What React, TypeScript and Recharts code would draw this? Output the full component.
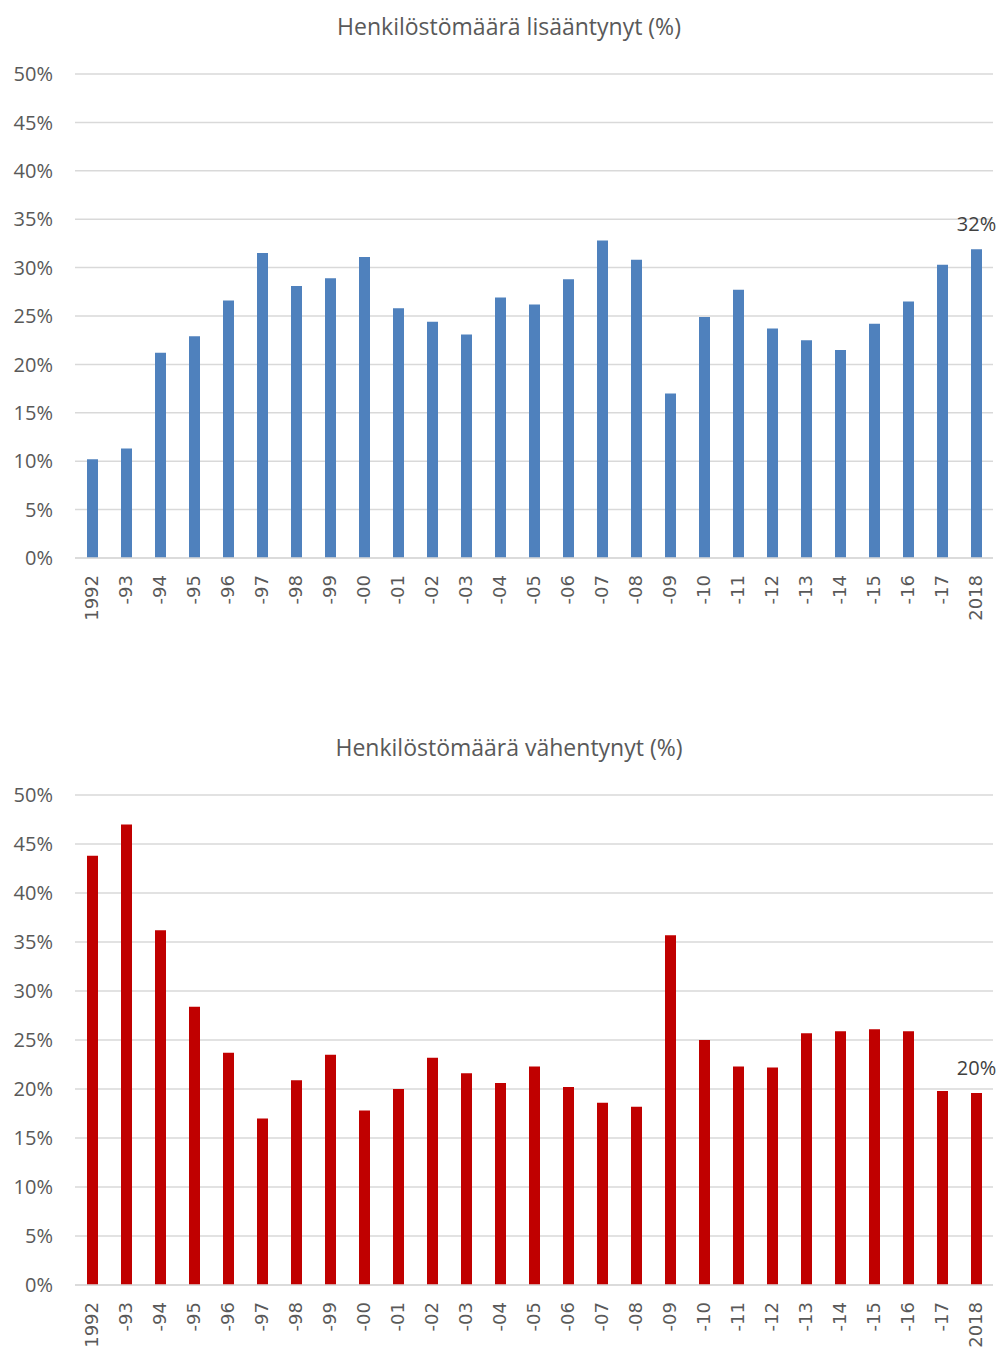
import { Bar, BarChart, CartesianGrid, LabelList, XAxis, YAxis } from "recharts";

const YEARS = [
  "1992", "-93", "-94", "-95", "-96", "-97", "-98", "-99", "-00", "-01",
  "-02", "-03", "-04", "-05", "-06", "-07", "-08", "-09", "-10", "-11",
  "-12", "-13", "-14", "-15", "-16", "-17", "2018",
];

// Henkilöstömäärä lisääntynyt (%)
const INCREASED = [
  10.2, 11.3, 21.2, 22.9, 26.6, 31.5, 28.1, 28.9, 31.1, 25.8,
  24.4, 23.1, 26.9, 26.2, 28.8, 32.8, 30.8, 17.0, 24.9, 27.7,
  23.7, 22.5, 21.5, 24.2, 26.5, 30.3, 31.9,
];

// Henkilöstömäärä vähentynyt (%)
const DECREASED = [
  43.8, 47.0, 36.2, 28.4, 23.7, 17.0, 20.9, 23.5, 17.8, 20.0,
  23.2, 21.6, 20.6, 22.3, 20.2, 18.6, 18.2, 35.7, 25.0, 22.3,
  22.2, 25.7, 25.9, 26.1, 25.9, 19.8, 19.6,
];

const Y_TICKS = [0, 5, 10, 15, 20, 25, 30, 35, 40, 45, 50];

const TEXT = "#595959";
const FONT = "'Open Sans', 'Noto Sans', sans-serif";

function YearTick({ x, y, payload }: any) {
  const ty = y + 9;
  return (
    <text
      x={x}
      y={ty}
      dy="0.36em"
      transform={`rotate(-90, ${x}, ${ty})`}
      textAnchor="end"
      fill={TEXT}
      fontSize={18}
      fontFamily="'DejaVu Sans', sans-serif"
    >
      {payload.value}
    </text>
  );
}

function Panel({
  title,
  values,
  lastLabel,
  color,
  height,
  marginTop,
  marginBottom,
  axisHeight,
  titleY,
}: {
  title: string;
  values: number[];
  lastLabel: string;
  color: string;
  height: number;
  marginTop: number;
  marginBottom: number;
  axisHeight: number;
  titleY: number;
}) {
  const data = YEARS.map((year, i) => ({
    year,
    value: values[i],
    label: i === YEARS.length - 1 ? lastLabel : undefined,
  }));

  return (
    <div style={{ position: "relative", width: 1000, height }}>
      <div
        style={{
          position: "absolute",
          left: 0,
          width: 1018,
          top: titleY - 15,
          lineHeight: "30px",
          textAlign: "center",
          fontFamily: FONT,
          fontSize: 23,
          color: TEXT,
        }}
      >
        {title}
      </div>
      <BarChart
        width={1000}
        height={height}
        data={data}
        margin={{ top: marginTop, right: 7, left: 0, bottom: marginBottom }}
      >
        <CartesianGrid vertical={false} stroke="#d9d9d9" strokeWidth={1.5} />
        <XAxis
          dataKey="year"
          interval={0}
          height={axisHeight}
          tickLine={false}
          axisLine={{ stroke: "#d9d9d9", strokeWidth: 1.5 }}
          tick={<YearTick />}
        />
        <YAxis
          width={75}
          domain={[0, 50]}
          ticks={Y_TICKS}
          tickFormatter={(v) => `${v}%`}
          axisLine={false}
          tickLine={false}
          tickSize={0}
          tickMargin={22}
          tick={{ fill: TEXT, fontSize: 20, fontFamily: FONT }}
        />
        <Bar dataKey="value" fill={color} barSize={11} isAnimationActive={false}>
          <LabelList
            dataKey="label"
            position="top"
            offset={18}
            fill="#404040"
            fontSize={20}
            fontFamily={FONT}
          />
        </Bar>
      </BarChart>
    </div>
  );
}

export default function App() {
  return (
    <div
      style={{
        position: "absolute",
        left: 0,
        top: 0,
        width: 1000,
        height: 1348,
        background: "#fff",
      }}
    >
      <Panel
        title="Henkilöstömäärä lisääntynyt (%)"
        values={INCREASED}
        lastLabel="32%"
        color="#4f81bd"
        height={680}
        marginTop={74}
        marginBottom={52}
        axisHeight={70}
        titleY={26}
      />
      <Panel
        title="Henkilöstömäärä vähentynyt (%)"
        values={DECREASED}
        lastLabel="20%"
        color="#c00000"
        height={668}
        marginTop={115}
        marginBottom={0}
        axisHeight={63}
        titleY={67}
      />
    </div>
  );
}
